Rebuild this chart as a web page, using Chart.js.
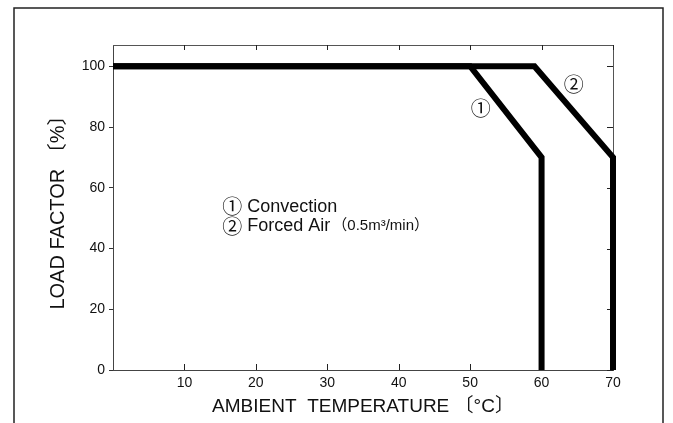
<!DOCTYPE html>
<html>
<head>
<meta charset="utf-8">
<script src="https://cdn.jsdelivr.net/npm/chart.js@4"></script>
<style>
  html, body { margin: 0; padding: 0; background: #fff; }
  #wrap { width: 673px; height: 423px; position: relative; }
</style>
</head>
<body>
<div id="wrap"><canvas id="derating"></canvas></div>
<script>
// derating curves
const convectionTemp = [0, 50, 60, 60];
const convectionLoad = [100, 100, 70, 0];
const forcedTemp = [0, 59, 70, 70];
const forcedLoad = [100, 100, 70, 0];

const tempTicks = [10, 20, 30, 40, 50, 60, 70];
const loadTicks = [0, 20, 40, 60, 80, 100];

const LATIN = '"Liberation Sans", Arial, "Noto Sans CJK JP", sans-serif';
const CIRCLED = '"Noto Sans CJK JP", "DejaVu Sans", sans-serif';

const toPoints = (xs, ys) => xs.map((x, i) => ({ x: x, y: ys[i] }));

// plot box and inner tick marks go under the curves,
// notes and the outer frame on top
const decorations = {
  id: 'decorations',
  beforeDatasetsDraw(chart) {
    const { ctx, chartArea: a, scales } = chart;
    const xs = scales.x, ys = scales.y;
    ctx.save();
    ctx.strokeStyle = '#555';
    ctx.lineWidth = 1;
    ctx.beginPath();
    ctx.moveTo(a.left, a.top + 0.5);
    ctx.lineTo(a.right + 0.5, a.top + 0.5);
    ctx.lineTo(a.right + 0.5, a.bottom);
    ctx.stroke();

    ctx.strokeStyle = '#222';
    ctx.beginPath();
    tempTicks.forEach(v => {
      const px = Math.round(xs.getPixelForValue(v)) + 0.5;
      ctx.moveTo(px, a.bottom); ctx.lineTo(px, a.bottom - 6);
      ctx.moveTo(px, a.top); ctx.lineTo(px, a.top + 5);
    });
    loadTicks.forEach(v => {
      const py = Math.round(ys.getPixelForValue(v)) + 0.5;
      ctx.moveTo(a.right, py); ctx.lineTo(a.right - 6, py);
    });
    ctx.stroke();
    ctx.restore();
  },
  afterDraw(chart) {
    const { ctx, scales } = chart;
    const xs = scales.x, ys = scales.y;
    ctx.save();

    // curve numbers
    ctx.fillStyle = '#111';
    ctx.textAlign = 'center';
    ctx.textBaseline = 'middle';
    ctx.font = '20px ' + CIRCLED;
    ctx.fillText('①', xs.getPixelForValue(51.5), ys.getPixelForValue(86));
    ctx.fillText('②', xs.getPixelForValue(64.5), ys.getPixelForValue(94));

    // notes
    const nx = xs.getPixelForValue(16.7);
    const y1 = ys.getPixelForValue(53.8);
    const y2 = ys.getPixelForValue(47.4);
    ctx.fillText('①', nx, y1);
    ctx.fillText('②', nx, y2);
    ctx.textAlign = 'left';
    ctx.font = '18px ' + LATIN;
    ctx.fillText('Convection', nx + 15, y1);
    ctx.fillText('Forced Air', nx + 15, y2);
    const w = ctx.measureText('Forced Air').width;
    ctx.font = '15px ' + LATIN;
    ctx.fillText('（0.5m³/min）', nx + 15 + w + 2, y2);

    // outer frame
    ctx.strokeStyle = '#222';
    ctx.lineWidth = 1.5;
    ctx.beginPath();
    ctx.moveTo(14, chart.height + 2);
    ctx.lineTo(14, 8);
    ctx.lineTo(663, 8);
    ctx.lineTo(663, chart.height + 2);
    ctx.stroke();
    ctx.restore();
  }
};

const config = {
  type: 'line',
  data: {
    datasets: [
      {
        label: 'Convection',
        data: toPoints(convectionTemp, convectionLoad),
        borderColor: '#000',
        borderWidth: 6,
        borderJoinStyle: 'miter',
        pointRadius: 0,
        tension: 0,
        clip: false,
      },
      {
        label: 'Forced Air',
        data: toPoints(forcedTemp, forcedLoad),
        borderColor: '#000',
        borderWidth: 6,
        borderJoinStyle: 'miter',
        pointRadius: 0,
        tension: 0,
        clip: false,
      }
    ],
  },
  options: {
    responsive: true,
    maintainAspectRatio: false,
    animation: false,
    layout: { padding: { top: 45, right: 60, bottom: 0, left: 0 } },
    plugins: {
      legend: { display: false },
      tooltip: { enabled: false },
    },
    scales: {
      x: {
        type: 'linear',
        min: 0,
        max: 70,
        afterBuildTicks: s => { s.ticks = tempTicks.map(v => ({ value: v })); },
        afterFit: s => { s.height = 53; },
        grid: { display: false, drawTicks: false },
        border: { display: true, color: '#444', width: 1 },
        ticks: { color: '#111', padding: 5, font: { size: 14, family: LATIN } },
        title: {
          display: true,
          text: 'AMBIENT  TEMPERATURE 〔°C〕',
          color: '#111',
          font: { size: 19, family: LATIN },
          padding: { top: 0, bottom: 5 },
        },
      },
      y: {
        min: 0,
        max: 107,
        afterBuildTicks: s => { s.ticks = loadTicks.map(v => ({ value: v })); },
        afterFit: s => { s.width = 113; },
        grid: { display: true, drawOnChartArea: false, drawTicks: true, tickLength: 4, color: '#333' },
        border: { display: true, color: '#444', width: 1 },
        ticks: { color: '#111', padding: 4, font: { size: 14, family: LATIN } },
        title: {
          display: true,
          text: 'LOAD FACTOR 〔%〕',
          color: '#111',
          font: { size: 20, family: LATIN },
          padding: { top: 46, bottom: 0 },
        },
      },
    },
  },
  plugins: [decorations],
};

new Chart(document.getElementById('derating'), config);
</script>
</body>
</html>
